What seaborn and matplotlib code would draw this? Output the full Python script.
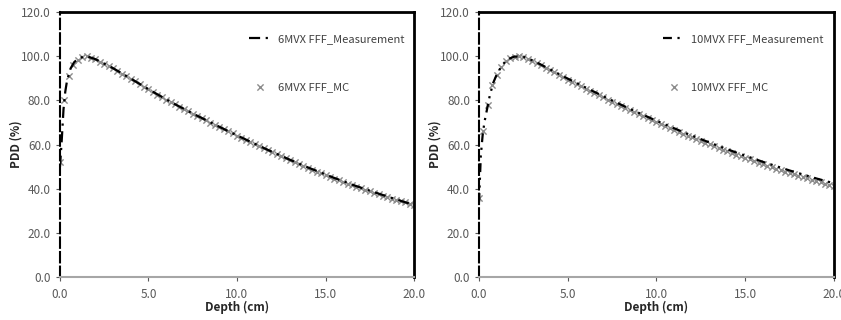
import numpy as np
import pandas as pd
import matplotlib
matplotlib.use("Agg")
import matplotlib.pyplot as plt
import seaborn as sns
from matplotlib.ticker import FormatStrFormatter

# ---------------- data ----------------
mc_depth = [i * 0.25 for i in range(81)]

mc6 = [52, 80, 91, 96, 98.5, 99.6, 100, 99.4, 98.6, 97.6, 96.6, 95.6, 94.5, 93.3, 92.2, 91.0,
       89.8, 88.6, 87.4, 86.2, 85.0, 83.9, 82.7, 81.6, 80.4, 79.3, 78.3, 77.2, 76.1, 75.1, 74.0,
       73.0, 72.0, 71.0, 70.0, 69.0, 68.0, 67.0, 66.0, 65.1, 64.1, 63.1, 62.1, 61.2, 60.2, 59.3,
       58.4, 57.4, 56.5, 55.6, 54.7, 53.8, 52.9, 52.0, 51.2, 50.3, 49.4, 48.6, 47.8, 47.0, 46.1,
       45.3, 44.6, 43.8, 43.0, 42.3, 41.6, 40.9, 40.2, 39.5, 38.8, 38.2, 37.5, 36.9, 36.2, 35.6,
       35.0, 34.4, 33.8, 33.2, 32.6]

mc10 = [36, 66, 78, 87, 91.6, 95.3, 97.9, 99.3, 99.9, 100, 99.6, 98.9, 97.9, 96.9, 95.9, 94.8,
        93.7, 92.7, 91.6, 90.6, 89.5, 88.5, 87.4, 86.4, 85.4, 84.4, 83.4, 82.4, 81.4, 80.4, 79.4,
        78.5, 77.5, 76.6, 75.6, 74.7, 73.7, 72.8, 71.9, 71.0, 70.1, 69.2, 68.3, 67.5, 66.6, 65.8,
        64.9, 64.1, 63.3, 62.5, 61.7, 60.9, 60.1, 59.3, 58.5, 57.7, 57.0, 56.2, 55.5, 54.7, 54.0,
        53.3, 52.6, 51.9, 51.2, 50.5, 49.8, 49.1, 48.5, 47.8, 47.2, 46.5, 45.9, 45.3, 44.7, 44.1,
        43.5, 42.9, 42.3, 41.7, 41.2]

meas_depth = [0, 0.1, 0.2, 0.3, 0.4, 0.6, 0.8, 1.0, 1.3, 1.6, 2.0, 2.5, 3.0, 3.5, 4.0, 4.5, 5.0,
              5.5, 6.0, 6.5, 7.0, 7.5, 8.0, 8.5, 9.0, 9.5, 10.0, 10.5, 11.0, 11.5, 12.0, 12.5,
              13.0, 13.5, 14.0, 14.5, 15.0, 15.5, 16.0, 16.5, 17.0, 17.5, 18.0, 18.5, 19.0, 19.5, 20.0]

meas6 = [50, 62, 76, 84, 89, 94.5, 97.3, 98.8, 99.8, 99.8, 98.7, 96.7, 94.6, 92.3, 89.9, 87.5,
         85.1, 82.8, 80.5, 78.3, 76.2, 74.1, 72.1, 70.1, 68.1, 66.1, 64.2, 62.3, 60.4, 58.5, 56.7,
         54.9, 53.1, 51.4, 49.7, 48.1, 46.5, 44.9, 43.4, 41.9, 40.5, 39.1, 37.8, 36.5, 35.2, 33.9, 32.7]

meas10 = [34, 55, 64, 70, 74, 82, 88, 91.8, 96, 98.6, 99.9, 99.8, 98.2, 96.2, 94.1, 92.0, 89.9,
          87.9, 85.9, 83.9, 81.9, 80.0, 78.1, 76.2, 74.4, 72.6, 70.8, 69.1, 67.4, 65.7, 64.1,
          62.5, 60.9, 59.4, 57.9, 56.4, 55.0, 53.6, 52.2, 50.9, 49.6, 48.3, 47.1, 45.9, 44.7, 43.6, 42.5]

panels = [
    ("6MVX FFF_Measurement", "6MVX FFF_MC", meas6, mc6, (0, (5, 2.5, 1, 2.5))),
    ("10MVX FFF_Measurement", "10MVX FFF_MC", meas10, mc10, (0, (4, 2.5, 1, 2.5, 1, 2.5))),
]

x_ticks = [0, 5, 10, 15, 20]
y_ticks = [0, 20, 40, 60, 80, 100, 120]

# ---------------- style ----------------
sns.set_theme(style="white")
plt.rcParams['font.family'] = ['Noto Sans CJK JP', 'DejaVu Sans']

fig = plt.figure(figsize=(8.41, 3.20), dpi=100)
axes_rects = [[0.0713, 0.134, 0.421, 0.828], [0.5696, 0.134, 0.422, 0.828]]

grey = "#a6a6a6"
tickc = "#595959"

for rect, (lab_m, lab_mc, meas, mc, ls) in zip(axes_rects, panels):
    ax = fig.add_axes(rect)
    dm = pd.DataFrame({"Depth": meas_depth, "PDD": meas})
    dc = pd.DataFrame({"Depth": mc_depth, "PDD": mc})
    sns.scatterplot(data=dc, x="Depth", y="PDD", ax=ax, marker="x", color="#8c8c8c",
                    s=20, linewidth=1.0, label=lab_mc, zorder=2)
    sns.lineplot(data=dm, x="Depth", y="PDD", ax=ax, color="black", linewidth=1.6,
                 label=lab_m, zorder=3)
    line = ax.lines[-1]
    line.set_linestyle(ls)

    ax.set_xlim(0, 20)
    ax.set_ylim(0, 120)
    ax.set_xticks(x_ticks)
    ax.set_yticks(y_ticks)
    ax.xaxis.set_major_formatter(FormatStrFormatter('%.1f'))
    ax.yaxis.set_major_formatter(FormatStrFormatter('%.1f'))
    ax.tick_params(axis='both', colors=tickc, labelsize=8.5, length=3, width=0.8,
                   direction='out', bottom=True, left=True)
    ax.tick_params(axis='x', pad=5)
    for lbl in ax.get_xticklabels() + ax.get_yticklabels():
        lbl.set_color(tickc)

    ax.set_xlabel("Depth (cm)", fontsize=8.5, fontweight='bold', color="#262626", labelpad=0)
    ax.set_ylabel("PDD (%)", fontsize=8.5, fontweight='bold', color="#262626")
    ax.yaxis.set_label_coords(-0.105, 0.5)

    ax.spines['top'].set_color('black')
    ax.spines['top'].set_linewidth(2.0)
    ax.spines['right'].set_color('black')
    ax.spines['right'].set_linewidth(2.0)
    ax.spines['bottom'].set_color(grey)
    ax.spines['bottom'].set_linewidth(1.5)
    ax.spines['left'].set_color('black')
    ax.spines['left'].set_linewidth(1.5)
    ax.spines['left'].set_linestyle((0, (5, 2)))

    handles, labels = ax.get_legend_handles_labels()
    order = [labels.index(lab_m), labels.index(lab_mc)]
    leg = ax.legend([handles[i] for i in order], [labels[i] for i in order],
                    loc='upper right', bbox_to_anchor=(1.0, 0.955), frameon=False,
                    fontsize=8, labelspacing=3.4, handlelength=2.0, handletextpad=0.6)
    leg.get_lines()[0].set_linestyle(ls)
    for t in leg.get_texts():
        t.set_color("#404040")

fig.savefig("out.png", dpi=100)
